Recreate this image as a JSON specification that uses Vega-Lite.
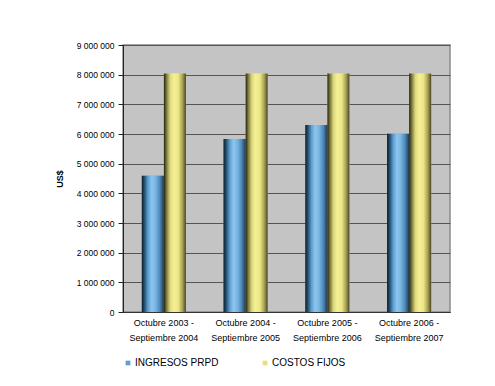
{
  "$schema": "https://vega.github.io/schema/vega-lite/v6.json",
  "width": 327,
  "height": 267,
  "autosize": {"type": "none"},
  "padding": {"left": 123, "top": 45, "right": 45, "bottom": 74},
  "background": "#ffffff",
  "data": {
    "values": [
      {"periodo": "Octubre 2003 - Septiembre 2004", "serie": "INGRESOS PRPD", "monto": 4590000},
      {"periodo": "Octubre 2003 - Septiembre 2004", "serie": "COSTOS FIJOS", "monto": 8040000},
      {"periodo": "Octubre 2004 - Septiembre 2005", "serie": "INGRESOS PRPD", "monto": 5830000},
      {"periodo": "Octubre 2004 - Septiembre 2005", "serie": "COSTOS FIJOS", "monto": 8040000},
      {"periodo": "Octubre 2005 - Septiembre 2006", "serie": "INGRESOS PRPD", "monto": 6300000},
      {"periodo": "Octubre 2005 - Septiembre 2006", "serie": "COSTOS FIJOS", "monto": 8040000},
      {"periodo": "Octubre 2006 - Septiembre 2007", "serie": "INGRESOS PRPD", "monto": 6010000},
      {"periodo": "Octubre 2006 - Septiembre 2007", "serie": "COSTOS FIJOS", "monto": 8040000}
    ]
  },
  "encoding": {
    "x": {
      "field": "periodo",
      "type": "nominal",
      "sort": null,
      "title": null,
      "scale": {"paddingInner": 0.46, "paddingOuter": 0.23},
      "axis": {
        "grid": false,
        "labelAngle": 0,
        "labelExpr": "[slice(datum.label, 0, 14), slice(datum.label, 15)]",
        "labelLineHeight": 15,
        "labelPadding": 6,
        "ticks": false,
        "domainColor": "#333333",
        "labelFont": "Liberation Sans",
        "labelFontSize": 9,
        "labelColor": "#000000"
      }
    },
    "xOffset": {
      "field": "serie",
      "type": "nominal",
      "scale": {"domain": ["INGRESOS PRPD", "COSTOS FIJOS"]}
    },
    "y": {
      "field": "monto",
      "type": "quantitative",
      "title": "US$",
      "scale": {"domain": [0, 9000000], "nice": false},
      "axis": {
        "grid": true,
        "values": [0, 1000000, 2000000, 3000000, 4000000, 5000000, 6000000, 7000000, 8000000, 9000000],
        "labelExpr": "replace(format(datum.value, ','), regexp(',', 'g'), ' ')",
        "labelFont": "Liberation Sans",
        "labelFontSize": 8.5,
        "labelColor": "#000000",
        "labelPadding": 4,
        "tickSize": 5,
        "tickColor": "#222222",
        "domainColor": "#222222",
        "gridColor": "#555555",
        "gridWidth": 1.2,
        "titleFont": "Liberation Sans",
        "titleFontSize": 9,
        "titleFontWeight": "bold",
        "titleColor": "#000000",
        "titlePadding": 12
      }
    }
  },
  "layer": [
    {
      "mark": {"type": "bar"},
      "encoding": {
        "color": {
          "field": "serie",
          "type": "nominal",
          "title": null,
          "scale": {
            "domain": ["INGRESOS PRPD", "COSTOS FIJOS"],
            "range": ["#5e9ed0", "#e4de80"]
          },
          "legend": {
            "orient": "bottom",
            "direction": "horizontal",
            "offset": 16,
            "symbolType": "square",
            "symbolSize": 22,
            "symbolStrokeWidth": 0,
            "labelFont": "Liberation Sans",
            "labelFontSize": 10,
            "labelColor": "#000000",
            "labelOffset": 2,
            "columnPadding": 41
          }
        }
      }
    },
    {
      "transform": [{"filter": "datum.serie === 'INGRESOS PRPD'"}],
      "mark": {
        "type": "bar",
        "fill": {"gradient": "linear", "x1": 0, "y1": 0, "x2": 1, "y2": 0, "stops": [
          {"offset": 0, "color": "#0e1c2a"},
          {"offset": 0.12, "color": "#23506f"},
          {"offset": 0.28, "color": "#5e9ed0"},
          {"offset": 0.45, "color": "#8cc6ee"},
          {"offset": 0.62, "color": "#7ab6e2"},
          {"offset": 0.82, "color": "#4c88b8"},
          {"offset": 1, "color": "#22384c"}
        ]}
      }
    },
    {
      "transform": [{"filter": "datum.serie === 'COSTOS FIJOS'"}],
      "mark": {
        "type": "bar",
        "fill": {"gradient": "linear", "x1": 0, "y1": 0, "x2": 1, "y2": 0, "stops": [
          {"offset": 0, "color": "#22220e"},
          {"offset": 0.12, "color": "#7c7a3a"},
          {"offset": 0.28, "color": "#dcd880"},
          {"offset": 0.45, "color": "#f6f092"},
          {"offset": 0.65, "color": "#ece688"},
          {"offset": 0.84, "color": "#a8a256"},
          {"offset": 1, "color": "#4a4622"}
        ]}
      }
    }
  ],
  "config": {
    "view": {"fill": "#c4c4c4", "stroke": "#8a8a8a", "strokeWidth": 1.5}
  }
}
